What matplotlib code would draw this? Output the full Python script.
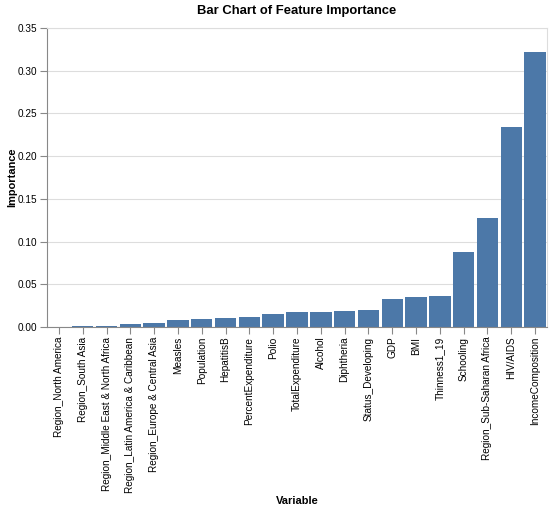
import matplotlib.pyplot as plt

# --- Feature importance values ---

variables = [
    "Region_North America",
    "Region_South Asia",
    "Region_Middle East & North Africa",
    "Region_Latin America & Caribbean",
    "Region_Europe & Central Asia",
    "Measles",
    "Population",
    "HepatitisB",
    "PercentExpenditure",
    "Polio",
    "TotalExpenditure",
    "Alcohol",
    "Diphtheria",
    "Status_Developing",
    "GDP",
    "BMI",
    "Thinness1_19",
    "Schooling",
    "Region_Sub-Saharan Africa",
    "HIV/AIDS",
    "IncomeComposition",
]
importance = [
    0.0003, 0.0015, 0.0015, 0.0039, 0.0047, 0.0082, 0.0089, 0.0101,
    0.0117, 0.0148, 0.0176, 0.0179, 0.0190, 0.0203, 0.0331, 0.0347,
    0.0363, 0.0878, 0.1276, 0.2345, 0.3215,
]

yticks = [0.0, 0.05, 0.10, 0.15, 0.20, 0.25, 0.30, 0.35]

plt.rcParams['font.family'] = ['Liberation Sans', 'DejaVu Sans']

W, H = 552, 511
fig = plt.figure(figsize=(W / 100, H / 100), dpi=100)
ax = fig.add_axes([47 / W, 1 - 327 / H, 500 / W, 299 / H])

x = range(len(variables))
ax.bar(x, importance, width=0.9, color='#4c78a8', zorder=2)

ax.set_xlim(-0.5, len(variables) - 0.5)
ax.set_ylim(0, 0.35)
ax.set_yticks(yticks)
ax.set_yticklabels([f"{v:.2f}" for v in yticks])
ax.set_xticks(list(x))
ax.set_xticklabels(variables, rotation=90, va='top', ha='center')

ax.grid(axis='y', color='#dddddd', linewidth=0.8, zorder=0)
ax.set_axisbelow(True)

for side in ('left', 'bottom'):
    ax.spines[side].set_color('#888888')
for side in ('top', 'right'):
    ax.spines[side].set_color('#dddddd')

ax.tick_params(axis='both', colors='#888888', labelcolor='black',
               labelsize=7.2, length=5, width=0.8)
ax.tick_params(axis='x', pad=2)
ax.tick_params(axis='y', pad=2)

fig.text(297 / W, 1 - 11 / H, "Bar Chart of Feature Importance",
         fontsize=9.4, fontweight='bold', ha='center', va='center')
fig.text(12 / W, 1 - 177 / H, "Importance", fontsize=7.9,
         fontweight='bold', rotation=90, ha='center', va='center')
fig.text(297 / W, 1 - 501 / H, "Variable", fontsize=7.9,
         fontweight='bold', ha='center', va='center')

fig.savefig('out.png', dpi=100)
